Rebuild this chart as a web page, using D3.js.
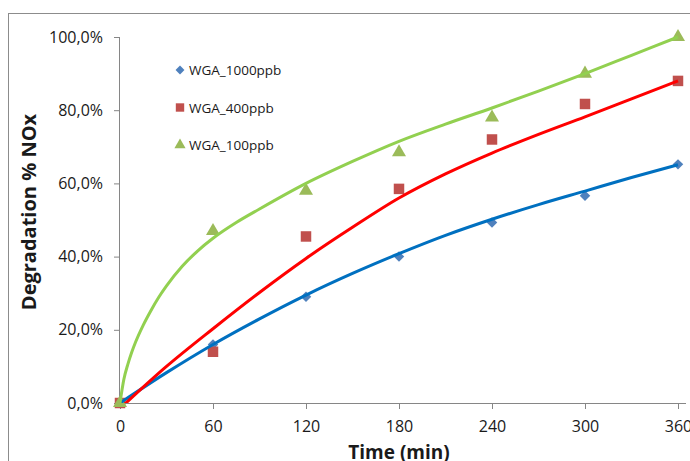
<!DOCTYPE html>
<html>
<head>
<meta charset="utf-8">
<script src="https://cdn.jsdelivr.net/npm/d3@7"></script>
<style>
  body { margin: 0; background: #fff; }
  svg { display: block; font-family: 'Open Sans', sans-serif; }
</style>
</head>
<body>
<svg id="chart" width="690" height="461"></svg>
<script>
const times = [0, 60, 120, 180, 240, 300, 360];
const wga1000 = [0, 16.0, 29.0, 40.0, 49.3, 56.6, 65.2];
const wga400 = [0, 14.0, 45.5, 58.5, 72.0, 81.7, 88.0];
const wga100 = [0, 47.0, 58.0, 68.5, 78.0, 90.0, 100.0];

// trendlines
const trendTimes1000 = [0, 30, 60, 90, 120, 150, 180, 210, 240, 270, 300, 330, 360];
const trend1000 = [0, 8.3, 16.0, 23.0, 29.5, 35.4, 40.8, 45.8, 50.2, 54.2, 57.9, 61.6, 65.1];
const trendTimes400 = [0, 30, 60, 90, 120, 150, 180, 210, 240, 270, 300, 330, 360];
const trend400 = [-1.5, 10.0, 20.3, 30.2, 39.5, 48.0, 56.0, 62.6, 68.3, 73.4, 78.2, 83.1, 88.0];
const trendTimes100 = [0, 2.5, 5, 7.5, 10, 15, 20, 25, 30, 40, 50, 60, 75, 90, 120, 150, 180, 210, 240, 270, 300, 330, 360];
const trend100 = [0, 6.5, 10.5, 13.8, 16.6, 21.3, 25.3, 28.9, 32.0, 37.3, 41.5, 45.0, 49.3, 53.0, 60.0, 66.0, 71.5, 76.2, 80.6, 85.2, 90.0, 95.0, 100.0];

const yTicks = [0, 20, 40, 60, 80, 100];
const xTicks = [0, 60, 120, 180, 240, 300, 360];

const series = [
  { name: 'WGA_1000ppb', values: wga1000, color: '#4f81bd', shape: 'diamond',
    tt: trendTimes1000, tv: trend1000, line: '#0070c0' },
  { name: 'WGA_400ppb', values: wga400, color: '#c0504d', shape: 'square',
    tt: trendTimes400, tv: trend400, line: '#ff0000' },
  { name: 'WGA_100ppb', values: wga100, color: '#9bbb59', shape: 'triangle',
    tt: trendTimes100, tv: trend100, line: '#92d050' }
];

const svg = d3.select('#chart');
const plotLeft = 120, plotRight = 678, plotTop = 37, plotBottom = 403;

const x = d3.scaleLinear().domain([0, 360]).range([plotLeft, plotRight]);
const y = d3.scaleLinear().domain([0, 100]).range([plotBottom, plotTop]);

// outer chart border (only top/left edge visible)
svg.append('rect')
  .attr('x', 8.5).attr('y', 13.5)
  .attr('width', 800).attr('height', 600)
  .attr('fill', 'none').attr('stroke', '#8c8c8c').attr('stroke-width', 1);

const fmt = (d) => d.toFixed(1).replace('.', ',') + '%';

const yAxis = svg.append('g')
  .attr('transform', `translate(${plotLeft},0)`)
  .call(d3.axisLeft(y).tickValues(yTicks).tickFormat(fmt).tickSize(6).tickPadding(11));

const xAxis = svg.append('g')
  .attr('transform', `translate(0,${plotBottom})`)
  .call(d3.axisBottom(x).tickValues(xTicks).tickSize(6).tickPadding(12));

[yAxis, xAxis].forEach((g) => {
  g.select('.domain').attr('stroke', '#868686').attr('stroke-width', 1);
  g.selectAll('.tick line').attr('stroke', '#868686');
  g.selectAll('.tick text')
    .attr('fill', '#1a1a1a')
    .style('font-size', '16px')
    .style('font-family', "'Open Sans', sans-serif");
});
xAxis.select('.domain').attr('d', `M${plotLeft},0.5H${plotRight + 8}`);
yAxis.select('.domain').attr('d', `M-0.5,${plotBottom}V${plotTop}`);

svg.append('text')
  .attr('transform', `translate(36,${(plotTop + plotBottom) / 2 - 8}) rotate(-90)`)
  .attr('text-anchor', 'middle')
  .style('font-size', '20px').style('font-weight', 'bold')
  .attr('fill', '#1a1a1a')
  .text('Degradation % NOx');

svg.append('text')
  .attr('x', 399).attr('y', 459)
  .attr('text-anchor', 'middle')
  .style('font-size', '19px').style('font-weight', 'bold')
  .attr('fill', '#1a1a1a')
  .text('Time (min)');

function shapePath(shape) {
  if (shape === 'diamond') return d3.symbol().type(d3.symbolDiamond2).size(70)();
  if (shape === 'square') return d3.symbol().type(d3.symbolSquare).size(110)();
  return d3.symbol().type(d3.symbolTriangle).size(85)();
}

// markers
series.forEach((s) => {
  svg.append('g').selectAll('path')
    .data(s.values)
    .enter()
    .append('path')
    .attr('d', shapePath(s.shape))
    .attr('transform', (d, i) => `translate(${x(times[i])},${y(d)})`)
    .attr('fill', s.color);
});

// trendlines, clipped to plot area
svg.append('clipPath').attr('id', 'plot')
  .append('rect').attr('x', plotLeft).attr('y', plotTop - 5)
  .attr('width', plotRight - plotLeft + 5).attr('height', plotBottom - plotTop + 5);

const line = d3.line()
  .x((d) => x(d[0]))
  .y((d) => y(d[1]))
  .curve(d3.curveMonotoneX);

series.forEach((s) => {
  svg.append('path')
    .datum(s.tt.map((t, i) => [t, s.tv[i]]))
    .attr('clip-path', 'url(#plot)')
    .attr('d', line)
    .attr('fill', 'none')
    .attr('stroke', s.line)
    .attr('stroke-width', 3);
});

// legend
const legend = svg.append('g');
series.forEach((s, i) => {
  const ly = 70 + i * 37.5;
  legend.append('path')
    .attr('d', shapePath(s.shape))
    .attr('transform', `translate(180,${ly})` + (s.shape === 'diamond' ? ' scale(0.85)' : ' scale(0.8)'))
    .attr('fill', s.color);
  legend.append('text')
    .attr('x', 189).attr('y', ly + 5)
    .style('font-size', '13.5px')
    .attr('fill', '#1a1a1a')
    .text(s.name);
});
</script>
</body>
</html>
